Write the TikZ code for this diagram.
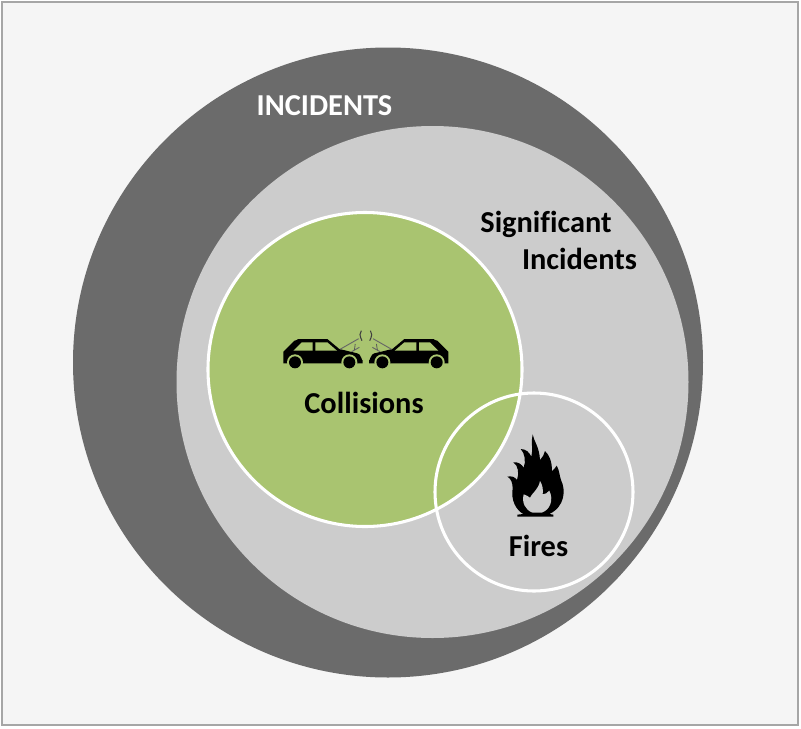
\documentclass[tikz,border=0pt]{standalone}
\usepackage{fontspec}
\setmainfont[Ligatures=NoCommon]{Carlito}
\tikzset{
  label text/.style={font=\fontsize{22.8}{26}\selectfont\bfseries,inner sep=0pt,text=black,anchor=base},
  circle line/.style={draw=white,line width=2.3pt},
}
\begin{document}
\begin{tikzpicture}[x=0.75pt,y=-0.75pt]
    %colores
    \colorlet{paper}{black!4}
    \colorlet{frameline}{black!35}
    \colorlet{ringdark}{black!58}
    \colorlet{ringlight}{black!20}
    \definecolor{leafgreen}{HTML}{A9C470}
    \useasboundingbox (0,0) rectangle (801,729);
    % Marco
    \draw[frameline,fill=paper,line width=1.6pt] (2,2) rectangle (798,725);

    % Circulos
    \fill[ringdark] (388,362.5) circle (315);
    \fill[ringlight] (432.5,382) circle (256);
    \draw[circle line,fill=leafgreen] (365,369.5) circle (157);
    \draw[circle line] (534,492) circle (99);

    % Coches
    \foreach \xmirror/\xstart in {1/270,-1/461.7}{
    \begin{scope}[shift={(\xstart,320)},xscale=\xmirror/3,yscale=1/3]
        \fill[black] (40,120) -- (40,95) -- (73,62) to[out=-40,in=180] (85,57) -- (172,57) -- (208,87) -- (262,100)
            to[out=10,in=-90] (278,120) -- (278,130) -- (40,130) -- cycle;
        \fill[leafgreen] (70,92) -- (95,67) -- (128,67) -- (128,92) -- cycle;
        \fill[leafgreen] (136,67) -- (172,67) -- (201,92) -- (136,92) -- cycle;
        \foreach \xwheel in {75,238}{
            \fill[leafgreen] (\xwheel,127) circle (24);
            \fill[black] (\xwheel,127) circle (18);
        }
        \draw[black!60,line width=0.7pt] (210,88) -- (266,56) (245,95) -- (268,82);
        \draw[black!75,line width=0.8pt] (274,32) to[out=-120,in=90] (270,44) to[out=-90,in=110] (276,62);
        \draw[black!65,line width=0.6pt] (252,90) to[out=-80,in=90] (256,72);
    \end{scope}
    }

    % Llama
    \begin{scope}[shift={(490,425)},scale=1/3]
        \fill[black] (82,275) -- (82,269) -- (100,267) .. controls (78,255) and (62,225) .. (68,190)
            .. controls (68,172) and (62,160) .. (52,155) .. controls (65,152) and (75,156) .. (81,165)
            .. controls (88,145) and (85,122) .. (70,112) .. controls (85,110) and (95,118) .. (101,128)
            .. controls (108,110) and (105,85) .. (92,72) .. controls (108,72) and (118,82) .. (124,95)
            .. controls (130,75) and (122,50) .. (128,28) .. controls (132,50) and (148,65) .. (150,105)
            .. controls (158,98) and (162,88) .. (165,78) .. controls (178,90) and (186,110) .. (186,138)
            .. controls (192,133) and (197,128) .. (200,122) .. controls (208,135) and (208,150) .. (213,165)
            .. controls (228,195) and (225,245) .. (178,267) -- (190,269) -- (190,275) -- cycle;
        \fill[ringlight] (128,263) .. controls (105,255) and (95,232) .. (101,208)
            .. controls (108,212) and (115,212) .. (120,218) .. controls (125,205) and (145,195) .. (150,168)
            .. controls (158,180) and (160,195) .. (158,208) .. controls (165,208) and (172,204) .. (178,197)
            .. controls (192,225) and (180,255) .. (155,263) -- cycle;
    \end{scope}

    % Textos
    \node[label text,text=white] (incidents) at (324.5,115) {INCIDENTS};
    \node[label text] (significant) at (546,232.5) {Significant};
    \node[label text] (incidents2) at (579.5,269.5) {Incidents};
    \node[label text] (collisions) at (364,413.5) {Collisions};
    \node[label text] (fires) at (538.5,556.5) {Fires};
\end{tikzpicture}
\end{document}
